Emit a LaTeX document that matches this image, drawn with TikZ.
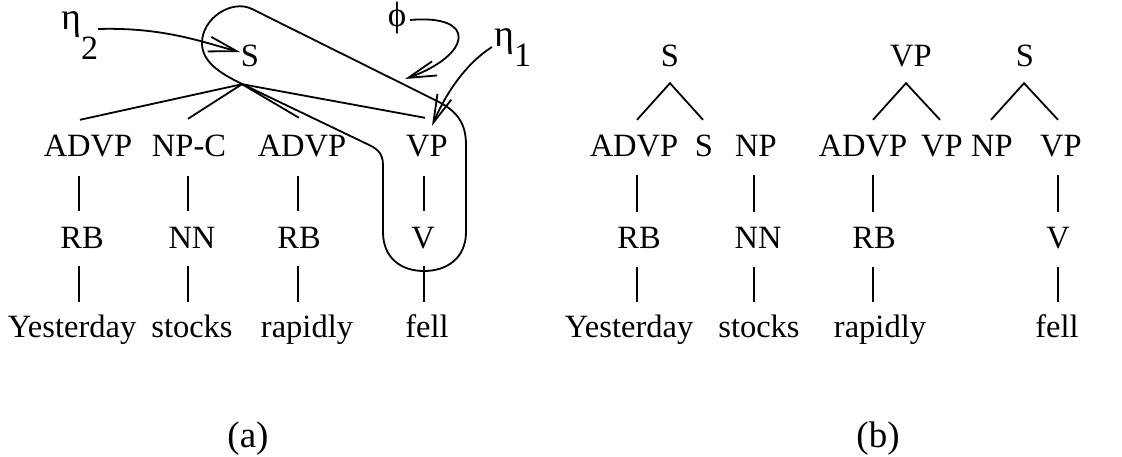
\documentclass[tikz,border=0pt]{standalone}
\usepackage{fontspec}
\setmainfont{Liberation Serif}
\usetikzlibrary{arrows.meta}
\newcommand{\subdig}[2]{\raisebox{#1}{\fontsize{34}{40}\selectfont #2}}
\begin{document}
\begin{tikzpicture}[x=1pt,y=-1pt,
  lab/.style={font=\fontsize{32.5}{36}\selectfont, inner sep=0pt, anchor=base, text height=21pt, text depth=0pt},
  tl/.style={line width=1.8pt},
  gk/.style={font=\fontsize{38}{40}\selectfont, inner sep=0pt, anchor=base west},
  arr/.style={line width=1.8pt, -{Straight Barb[length=28pt,width=15pt]}},
  capt/.style={font=\fontsize{37}{40}\selectfont, inner sep=0pt, anchor=base}]
\useasboundingbox (0,0) rectangle (1122,457);
% ---------- (a) ----------
\node[lab] (Sa) at (250,67) {S};
\node[lab] (A1) at (88,157) {ADVP};
\node[lab] (A2) at (189,157) {NP-C};
\node[lab] (A3) at (302,157) {ADVP};
\node[lab] (A4) at (427,157) {VP};
\node[lab] (B1) at (82,248) {RB};
\node[lab] (B2) at (192,248) {NN};
\node[lab] (B3) at (299,248) {RB};
\node[lab] (B4) at (423,248) {V};
\node[lab] (W1) at (72,337) {Yesterday};
\node[lab] (W2) at (192,337) {stocks};
\node[lab] (W3) at (307,337) {rapidly};
\node[lab] (W4) at (427,337) {fell};
\foreach \c/\cx/\cy in {A1/-8/16, A2/-1/17, A3/-3/18, A4/-2/18}
  \draw[tl] ([xshift=-8pt,yshift=-17pt]Sa.south) -- ([xshift=\cx pt,yshift=\cy pt]\c.north);
\foreach \t/\tx/\b/\bx in {A1/-9/B1/-3, A2/-1/B2/-4, A3/-4/B3/-1, A4/-3/B4/1}
  \draw[tl] ([xshift=\tx pt,yshift=-19pt]\t.south) -- ([xshift=\bx pt,yshift=16pt]\b.north);
\foreach \t/\tx/\b/\bx in {B1/-3/W1/7, B2/-4/W2/-4, B3/-1/W3/-9, B4/1/W4/-3}
  \draw[tl] ([xshift=\tx pt,yshift=-18pt]\t.south) -- ([xshift=\bx pt,yshift=14pt]\b.north);
% loop
\draw[tl] (252,9) -- (437,101) .. controls (457,111) and (466,123) .. (466,145) -- (466,232)
  .. controls (466,258) and (447,271) .. (424,271) .. controls (401,271) and (383,258) .. (383,232)
  -- (383,165) .. controls (383,152) and (376,148) .. (365,143) -- (240,83)
  .. controls (220,73) and (202,62) .. (202,43) .. controls (202,18) and (232,-1) .. (252,9) -- cycle;
% labels and arrows
\node[gk] (eta2) at (61,30) {η\subdig{-30pt}{2}};
\node[gk] (eta1) at (494,47) {η\subdig{-20pt}{1}};
\node[gk, anchor=base, font=\fontsize{35}{40}\selectfont] (phi) at (397,27) {ϕ};
\coordinate (e2s) at (98,29);
\coordinate (e1s) at (492,47);
\coordinate (phs) at (410,20);
\coordinate (phitip) at (405,79);
\draw[arr] (e2s) .. controls (165,27) and (205,43) .. ([xshift=-10pt,yshift=15pt]Sa.base);
\draw[arr] (phs) .. controls (478,14) and (472,55) .. (phitip);
\draw[arr] (e1s) .. controls (462,66) and (443,100) .. ([xshift=5pt,yshift=10pt]A4.north);
% ---------- (b) ----------
\node[lab] (Sb1) at (670,67) {S};
\node[lab] (C1) at (634,157) {ADVP};
\node[lab] (C2) at (704,157) {S};
\node[lab] (C3) at (756,157) {NP};
\node[lab] (D1) at (639,248) {RB};
\node[lab] (D2) at (758,248) {NN};
\node[lab] (Y1) at (629,337) {Yesterday};
\node[lab] (Y2) at (759,337) {stocks};
\node[lab] (VPb) at (911,67) {VP};
\node[lab] (C4) at (863,157) {ADVP};
\node[lab] (C5) at (942,157) {VP};
\node[lab] (D3) at (874,248) {RB};
\node[lab] (Y3) at (880,337) {rapidly};
\node[lab] (Sb2) at (1025,67) {S};
\node[lab] (C6) at (992,157) {NP};
\node[lab] (C7) at (1061,157) {VP};
\node[lab] (D4) at (1058,248) {V};
\node[lab] (Y4) at (1057,337) {fell};
\draw[tl] ([xshift=3pt,yshift=16pt]C1.north) -- ([yshift=-16pt]Sb1.south) -- ([xshift=-1pt,yshift=16pt]C2.north);
\draw[tl] ([xshift=10pt,yshift=16pt]C4.north) -- ([xshift=-5pt,yshift=-16pt]VPb.south) -- ([xshift=-2pt,yshift=16pt]C5.north);
\draw[tl] ([xshift=-1pt,yshift=16pt]C6.north) -- ([xshift=-1pt,yshift=-16pt]Sb2.south) -- ([xshift=-3pt,yshift=16pt]C7.north);
\foreach \t/\tx/\b/\bx in {C1/3/D1/-2, C3/-2/D2/-4, C4/10/D3/-1, C7/-3/D4/0}
  \draw[tl] ([xshift=\tx pt,yshift=-18pt]\t.south) -- ([xshift=\bx pt,yshift=15pt]\b.north);
\foreach \t/\tx/\b/\bx in {D1/-2/Y1/8, D2/-4/Y2/-5, D3/-1/Y3/-7, D4/0/Y4/1}
  \draw[tl] ([xshift=\tx pt,yshift=-19pt]\t.south) -- ([xshift=\bx pt,yshift=14pt]\b.north);
% captions
\node[capt] (capa) at (248,447) {(a)};
\node[capt] (capb) at (878,447) {(b)};
\end{tikzpicture}
\end{document}
